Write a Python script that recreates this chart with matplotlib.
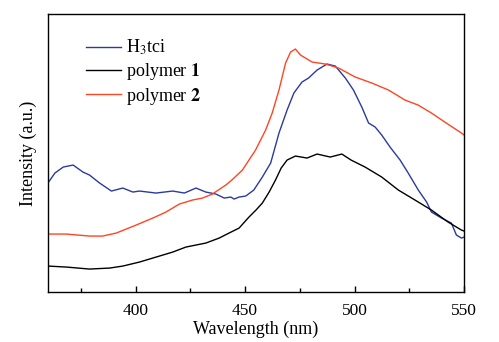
import matplotlib
matplotlib.use("Agg")
import matplotlib.pyplot as plt
from matplotlib.ticker import MultipleLocator

plt.rcParams['font.family'] = ['Liberation Serif', 'DejaVu Serif']
plt.rcParams['mathtext.fontset'] = 'stix'

# H3tci
wl_h3 = [360, 363.2, 367, 371.5, 376, 379, 383.6, 389, 394.2, 398.8, 401.8, 409.4,
         417, 422.3, 427.6, 432.1, 436.7, 440.5, 443.5, 445, 447.3, 450.3, 454,
         457.9, 461.7, 465.5, 469.2, 472.3, 476, 479, 482.9, 487.4, 491.2, 495.8,
         499.5, 503.3, 506.4, 509.4, 512.4, 516.2, 520.8, 524.5, 529.1, 532.9,
         535.1, 539.7, 544.2, 546.5, 548.8, 550]
int_h3 = [109, 119, 125, 127, 120, 117, 109, 101, 104, 100, 101, 99,
          101, 99, 104, 100, 98, 94, 95, 93, 95, 96, 102,
          115, 129, 159, 182, 199, 210, 214, 222, 228, 226, 214,
          202, 185, 169, 165, 157, 145, 132, 119, 102, 90,
          80, 74, 69, 57, 54, 55]

# polymer 1
wl_p1 = [360, 368.5, 379, 388.2, 394.2, 401.8, 409.4, 417, 423, 432.1, 438.2, 442.7,
         447.3, 451.8, 455, 457.9, 461, 463.9, 466.5, 469.2, 473, 478.3, 482.9,
         488.9, 494.2, 498.4, 504.8, 512.4, 520, 527.6, 535.1, 542.7, 548.8, 550]
int_p1 = [26, 25, 23, 24, 26, 30, 35, 40, 45, 49, 54, 59,
          64, 75, 82, 89, 100, 112, 124, 132, 136, 134, 138,
          135, 138, 132, 125, 115, 102, 92, 82, 70, 62, 61]

# polymer 2
wl_p2 = [360, 368.5, 379, 385, 391.2, 400.3, 407.9, 413.9, 420, 426, 430.6, 435.1,
         441.2, 444, 448.8, 454.8, 459.4, 462.4, 465.5, 468.5, 470.8, 473, 475.3,
         480.6, 486.7, 492.7, 500.3, 507.9, 515.5, 523, 529, 535.1, 541.2, 548.8, 550]
int_p2 = [58, 58, 56, 56, 59, 67, 74, 80, 88, 92, 94, 98,
          107, 112, 122, 142, 162, 179, 202, 229, 240, 243, 237,
          230, 228, 224, 215, 209, 202, 192, 187, 179, 170, 159, 157]

fig = plt.figure(figsize=(4.99, 3.42), dpi=100)
ax = fig.add_axes([0.096, 0.146, 0.834, 0.813])

ax.plot(wl_h3, int_h3, color='#2b3a9e', lw=1.0, label='H$_3$tci')
ax.plot(wl_p1, int_p1, color='black', lw=1.0, label=r'polymer $\mathbf{1}$')
ax.plot(wl_p2, int_p2, color='#ff4522', lw=1.0, label=r'polymer $\mathbf{2}$')

ax.set_xlim(360, 550)
ax.set_ylim(0, 278)
ax.xaxis.set_major_locator(MultipleLocator(50))
ax.xaxis.set_minor_locator(MultipleLocator(25))
ax.tick_params(axis='x', which='both', direction='in', labelsize=12.5, width=1, pad=8)
ax.tick_params(axis='x', which='major', length=4)
ax.tick_params(axis='x', which='minor', length=3)
ax.set_yticks([])
for s in ax.spines.values():
    s.set_linewidth(1.0)

ax.set_xlabel('Wavelength (nm)', fontsize=13, labelpad=1)
ax.set_ylabel('Intensity (a.u.)', fontsize=13, labelpad=8)

ax.legend(loc='upper left', bbox_to_anchor=(0.075, 0.94), frameon=False, fontsize=13,
          handlelength=1.9, handletextpad=0.3, labelspacing=0.2, borderaxespad=0)

fig.savefig('out.png', dpi=100)
